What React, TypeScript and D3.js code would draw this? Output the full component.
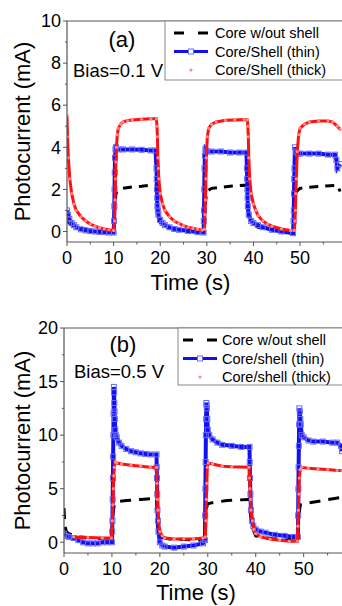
import React from "react";
import * as d3 from "d3";

// ---- panel (a): bias 0.1 V ----
const coreATime = [0, 1, 3, 6, 10, 10.2, 10.5, 11, 12, 14, 16, 18, 19.2, 19.4, 19.7, 21, 24, 29.4, 29.6, 30, 31, 33, 35, 38.6, 38.8, 39.2, 41, 44, 48.7, 48.9, 49.2, 50, 52, 55, 58, 58.6];
const coreAVal = [0.5, 0.3, 0.15, 0.05, 0, 1.0, 1.8, 1.95, 2.05, 2.12, 2.15, 2.2, 2.2, 1.0, 0.5, 0.2, 0.08, 0, 1.2, 1.9, 2.05, 2.1, 2.15, 2.2, 1.0, 0.5, 0.2, 0.08, 0, 1.2, 1.9, 2.05, 2.1, 2.15, 2.2, 1.9];

const thinATime = [0, 0.2, 0.5, 1, 1.5, 2, 3, 4, 5, 6, 7, 8, 9, 10, 10.1, 10.15, 10.2, 10.25, 10.3, 10.4, 10.5, 11, 12, 14, 16, 18, 19, 19.2, 19.25, 19.3, 19.35, 19.4, 19.5, 19.6, 20, 20.5, 21, 22, 23, 24, 26, 28, 29.3, 29.35, 29.4, 29.45, 29.5, 29.6, 29.7, 30, 31, 33, 35, 37, 38.5, 38.6, 38.65, 38.7, 38.75, 38.8, 39, 39.5, 40, 41, 42, 44, 46, 48.5, 48.6, 48.65, 48.7, 48.75, 48.8, 48.9, 49.1, 49.5, 50, 52, 54, 56, 57.5, 57.8, 58, 58.6];
const thinAVal = [1.0, 0.8, 0.6, 0.4, 0.3, 0.2, 0.1, 0.05, 0.02, 0, -0.02, -0.03, -0.05, -0.05, 0.5, 1.2, 2.0, 2.8, 3.5, 3.9, 4.0, 3.9, 3.9, 3.9, 3.88, 3.85, 3.85, 3.0, 2.5, 2.0, 1.6, 1.2, 1.0, 0.8, 0.55, 0.4, 0.3, 0.2, 0.12, 0.08, 0.02, -0.03, -0.05, 0.5, 1.0, 2.0, 3.0, 3.6, 3.9, 3.8, 3.8, 3.8, 3.75, 3.75, 3.75, 3.0, 2.5, 2.0, 1.6, 1.2, 0.8, 0.5, 0.4, 0.3, 0.2, 0.08, 0, -0.08, 0.5, 1.0, 1.8, 2.5, 3.0, 4.0, 3.8, 3.7, 3.7, 3.7, 3.7, 3.65, 3.65, 3.4, 3.0, 3.2];

const thickATime = [0, 0.1, 0.3, 0.6, 1, 1.5, 2, 3, 4, 5, 6, 7, 8, 9, 10, 10.2, 10.3, 10.4, 10.5, 10.6, 10.8, 11, 11.5, 12, 13, 14, 16, 18, 19.2, 19.3, 19.4, 19.5, 19.6, 19.7, 20, 20.5, 21, 22, 23, 24, 25, 26, 27, 28, 29, 29.5, 29.6, 29.7, 29.8, 29.9, 30.1, 30.4, 31, 32, 34, 36, 38, 38.7, 38.8, 38.9, 39, 39.2, 39.5, 40, 40.5, 41, 42, 43, 44, 46, 48, 48.8, 48.9, 49, 49.1, 49.2, 49.4, 49.7, 50, 51, 52, 54, 56, 57, 58, 58.6];
const thickAVal = [5.5, 4.5, 3.5, 2.5, 1.8, 1.3, 1.0, 0.7, 0.5, 0.35, 0.25, 0.18, 0.12, 0.08, 0.05, 0.5, 1.5, 2.5, 3.3, 4.0, 4.6, 4.9, 5.1, 5.2, 5.27, 5.3, 5.33, 5.35, 5.35, 5.0, 4.5, 3.5, 3.0, 2.5, 1.8, 1.3, 1.0, 0.7, 0.5, 0.38, 0.28, 0.2, 0.15, 0.1, 0.07, 0.1, 0.8, 1.5, 2.5, 3.5, 4.5, 4.9, 5.1, 5.2, 5.28, 5.3, 5.32, 5.3, 5.0, 4.5, 3.5, 2.5, 1.8, 1.3, 1.0, 0.75, 0.5, 0.35, 0.25, 0.12, 0.05, 0.05, 0.5, 1.0, 1.8, 2.5, 3.8, 4.6, 4.9, 5.1, 5.2, 5.25, 5.25, 5.2, 5.0, 4.85];

// ---- panel (b): bias 0.5 V ----
const coreBTime = [0, 0.2, 0.5, 1, 3, 6, 10, 10.2, 10.5, 11, 13, 16, 19.3, 19.5, 20, 22, 29.4, 29.6, 30, 31, 34, 38.7, 38.8, 39.2, 40, 42, 48.8, 49, 49.3, 50, 54, 58];
const coreBVal = [3.2, 1.5, 1.0, 0.8, 0.5, 0.4, 0.2, 2.5, 3.6, 3.8, 3.9, 4.0, 4.1, 1.5, 0.5, 0.3, 0.2, 3.0, 3.6, 3.7, 3.9, 4.0, 3.0, 1.5, 0.6, 0.4, 0.3, 2.5, 3.5, 3.6, 3.9, 4.2];

const thinBTime = [0, 0.5, 1, 2, 3, 4, 5, 6, 7, 8, 9, 10, 10.05, 10.1, 10.15, 10.2, 10.25, 10.3, 10.35, 10.4, 10.45, 10.5, 10.55, 10.6, 10.7, 10.8, 11, 11.5, 12, 13, 14, 15, 16, 17, 18, 19.3, 19.35, 19.4, 19.45, 19.5, 19.6, 19.7, 20, 20.5, 21, 23, 25, 27, 29, 29.4, 29.45, 29.5, 29.55, 29.6, 29.65, 29.7, 29.75, 29.8, 29.9, 30, 30.3, 31, 32, 33, 35, 37, 38.7, 38.75, 38.8, 38.9, 39, 39.2, 39.5, 40, 41, 42, 44, 46, 48, 48.8, 48.85, 48.9, 48.95, 49, 49.05, 49.1, 49.2, 49.3, 49.4, 49.6, 50, 51, 52, 54, 56, 57, 57.8, 58];
const thinBVal = [0.8, 0.6, 0.5, 0.4, 0.2, 0, -0.1, -0.1, -0.1, 0, 0, 0, 1.0, 2.0, 4.0, 6.0, 8.0, 10.0, 12.0, 14.5, 14.0, 13.0, 12.2, 11.5, 10.5, 10.0, 9.8, 9.3, 9.0, 8.7, 8.5, 8.4, 8.3, 8.25, 8.2, 8.2, 7.0, 6.0, 4.5, 3.0, 2.0, 1.0, 0, -0.3, -0.4, -0.5, -0.4, -0.3, -0.1, 0.2, 2.5, 5.0, 7.5, 10.0, 11.5, 13.0, 12.8, 12.5, 11.5, 10.5, 10.0, 9.6, 9.3, 9.1, 9.0, 8.9, 8.9, 7.5, 6.0, 4.5, 3.0, 2.0, 1.5, 1.2, 1.0, 0.9, 0.7, 0.6, 0.5, 0.5, 2.5, 5.0, 7.0, 9.0, 11.0, 12.5, 12.2, 11.5, 11.0, 10.0, 9.8, 9.5, 9.4, 9.4, 9.3, 9.3, 9.0, 8.5];

const thickBTime = [2, 5, 8, 9.9, 10.1, 10.2, 10.3, 10.4, 10.5, 10.7, 11, 12, 14, 16, 18, 19.3, 19.4, 19.5, 19.6, 19.7, 20, 20.5, 21, 23, 25, 27, 29, 29.5, 29.6, 29.7, 29.8, 29.9, 30.1, 31, 33, 35, 38.6, 38.7, 38.8, 38.9, 39, 39.3, 39.6, 40, 41, 43, 45, 47, 48.7, 48.8, 48.9, 49, 49.1, 49.3, 49.6, 51, 53, 55, 57, 58];
const thickBVal = [0.5, 0.45, 0.4, 0.4, 2.0, 3.5, 5.0, 6.2, 7.0, 7.5, 7.4, 7.3, 7.2, 7.1, 7.0, 7.0, 5.5, 4.0, 3.0, 2.0, 1.0, 0.6, 0.4, 0.3, 0.3, 0.3, 0.4, 0.5, 2.0, 4.0, 5.5, 7.0, 7.4, 7.3, 7.1, 7.05, 7.0, 6.0, 5.0, 4.0, 3.0, 2.0, 1.2, 0.8, 0.5, 0.3, 0.2, 0.1, 0.1, 1.5, 3.0, 4.5, 6.0, 6.8, 7.0, 6.9, 6.85, 6.8, 6.7, 6.7];

const xTicks = [0, 10, 20, 30, 40, 50];
const xMinor = [5, 15, 25, 35, 45, 55];
const yTicksA = [0, 2, 4, 6, 8, 10];
const yMinorA = [1, 3, 5, 7, 9];
const yTicksB = [0, 5, 10, 15, 20];
const yMinorB = [2.5, 7.5, 12.5, 17.5];
const legendA = ["Core w/out shell", "Core/Shell (thin)", "Core/Shell (thick)"];
const legendB = ["Core w/out shell", "Core/shell (thin)", "Core/shell (thick)"];

const FONT = "'Liberation Sans', Arial, sans-serif";
const AXIS = "#555";
const BLUE_LINE = "#1010f0";
const BLUE_MARK = "#6a6aff";
const RED_LINE = "#ff1010";
const RED_MARK = "#ff8a8a";

const zip = (t: number[], v: number[]) => t.map((x, i) => [x, v[i]] as [number, number]);

function Panel(props: any) {
  const { id, left, right, top, bottom, xMax, yMin, yMax, yTicks, yMinor, core, thin, thick, tag, bias, tagPos, legend, leg, dash, labelY, timeY } = props;
  const x = d3.scaleLinear().domain([0, xMax]).range([left, right]);
  const y = d3.scaleLinear().domain([yMin, yMax]).range([bottom, top]);
  const line = d3.line<[number, number]>().x(d => x(d[0])).y(d => y(d[1]));
  const clip = `clip-${id}`;
  return (
    <g>
      <defs>
        <clipPath id={clip}>
          <rect x={left} y={top} width={right - left + 2} height={bottom - top} />
        </clipPath>
      </defs>
      <g clipPath={`url(#${clip})`}>
        <path d={line(core) || ""} fill="none" stroke="#000" strokeWidth={3} strokeDasharray={dash} />
        <path d={line(thin) || ""} fill="none" stroke={BLUE_LINE} strokeWidth={4} />
        {thin.map((d: [number, number], i: number) => (
          <rect key={i} x={x(d[0]) - 2.5} y={y(d[1]) - 2.5} width={5} height={5} fill="none" stroke={BLUE_MARK} strokeWidth={1} />
        ))}
        <path d={line(thick) || ""} fill="none" stroke={RED_LINE} strokeWidth={3} />
        {thick.map((d: [number, number], i: number) => (
          <circle key={i} cx={x(d[0])} cy={y(d[1])} r={1.6} fill={RED_MARK} />
        ))}
      </g>
      {/* frame */}
      <line x1={left} x2={right + 2} y1={top} y2={top} stroke={AXIS} strokeWidth={1} />
      <line x1={left} x2={left} y1={top} y2={bottom} stroke={AXIS} strokeWidth={1.2} />
      <line x1={left} x2={right + 2} y1={bottom} y2={bottom} stroke={AXIS} strokeWidth={1.2} />
      {yTicks.map((t: number) => (
        <g key={t}>
          <line x1={left - 4} x2={left} y1={y(t)} y2={y(t)} stroke={AXIS} />
          <text x={left - 6} y={y(t)} dy="0.35em" textAnchor="end" fontSize={18} fontFamily={FONT}>{t}</text>
        </g>
      ))}
      {yMinor.map((t: number) => (
        <line key={t} x1={left - 2} x2={left} y1={y(t)} y2={y(t)} stroke={AXIS} />
      ))}
      {xTicks.map((t: number) => (
        <g key={t}>
          <line x1={x(t)} x2={x(t)} y1={bottom} y2={bottom + 4} stroke={AXIS} />
          <text x={x(t)} y={bottom + 22} textAnchor="middle" fontSize={18} fontFamily={FONT}>{t}</text>
        </g>
      ))}
      {xMinor.map((t: number) => (
        <line key={t} x1={x(t)} x2={x(t)} y1={bottom} y2={bottom + 2.5} stroke={AXIS} />
      ))}
      <text x={x(timeY.cx)} y={timeY.y} textAnchor="middle" fontSize={22} fontFamily={FONT}>Time (s)</text>
      <text transform={`translate(${labelY.x},${(top + bottom) / 2}) rotate(-90)`} textAnchor="middle" fontSize={22} fontFamily={FONT}>Photocurrent (mA)</text>
      <text x={tagPos.x} y={tagPos.y} textAnchor="middle" fontSize={22} fontFamily={FONT}>{tag}</text>
      <text x={tagPos.bx} y={tagPos.by} fontSize={18.5} fontFamily={FONT}>{bias}</text>
      {/* legend */}
      <rect x={leg.x} y={top} width={342 - leg.x + 1} height={leg.h} fill="white" stroke="#888" strokeWidth={1} />
      {legend.map((s: string, i: number) => {
        const cy = top + leg.row0 + i * leg.dy;
        return (
          <g key={s}>
            {i === 0 && (
              <g>
                <line x1={leg.sx} x2={leg.sx + 10} y1={cy} y2={cy} stroke="#000" strokeWidth={3} />
                <line x1={leg.sx + 24} x2={leg.sx + 34} y1={cy} y2={cy} stroke="#000" strokeWidth={3} />
              </g>
            )}
            {i === 1 && (
              <g>
                <line x1={leg.sx} x2={leg.sx + 34} y1={cy} y2={cy} stroke={BLUE_LINE} strokeWidth={3} />
                <rect x={leg.sx + 14.5} y={cy - 2.5} width={5} height={5} fill="white" stroke={BLUE_MARK} />
              </g>
            )}
            {i === 2 && <circle cx={leg.sx + 17} cy={cy} r={1.6} fill={RED_MARK} />}
            <text x={leg.tx} y={cy} dy="0.35em" fontSize={14.5} fontFamily={FONT}>{s}</text>
          </g>
        );
      })}
    </g>
  );
}

export default function App() {
  return (
    <svg width={342} height={606} style={{ position: "absolute", left: 0, top: 0, background: "white" }}>
      <Panel
        id="a" left={67} right={342} top={21} bottom={242} xMax={59} yMin={-0.5} yMax={10}
        yTicks={yTicksA} yMinor={yMinorA}
        core={zip(coreATime, coreAVal)} thin={zip(thinATime, thinAVal)} thick={zip(thickATime, thickAVal)}
        tag="(a)" bias="Bias=0.1 V" tagPos={{ x: 122, y: 47, bx: 73, by: 77 }}
        legend={legendA} leg={{ x: 165, h: 59, row0: 12, dy: 18.5, sx: 174, tx: 215 }}
        dash="9,7" labelY={{ x: 30 }} timeY={{ cx: 26.5, y: 290 }}
      />
      <Panel
        id="b" left={64} right={342} top={328} bottom={553} xMax={58} yMin={-1} yMax={20}
        yTicks={yTicksB} yMinor={yMinorB}
        core={zip(coreBTime, coreBVal)} thin={zip(thinBTime, thinBVal)} thick={zip(thickBTime, thickBVal)}
        tag="(b)" bias="Bias=0.5 V" tagPos={{ x: 123, y: 352, bx: 74, by: 378 }}
        legend={legendB} leg={{ x: 178, h: 57, row0: 12, dy: 18.5, sx: 183, tx: 222 }}
        dash="11,8" labelY={{ x: 30 }} timeY={{ cx: 27.5, y: 600 }}
      />
    </svg>
  );
}
